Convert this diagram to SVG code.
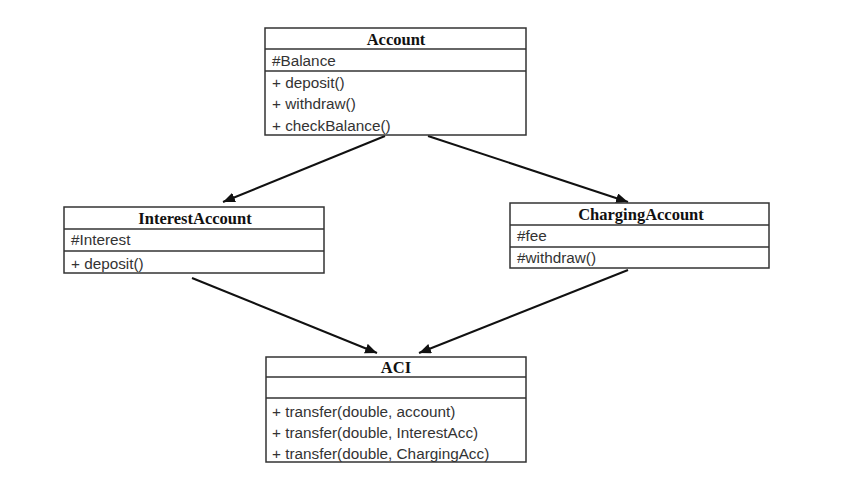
<svg xmlns="http://www.w3.org/2000/svg" width="842" height="492" viewBox="0 0 842 492">
<defs>
<style>
.box{fill:#fff;stroke:#333;stroke-width:1.5}
.div{stroke:#333;stroke-width:1.5}
.title{font-family:"Liberation Serif",serif;font-weight:bold;font-size:16.5px;fill:#111;text-anchor:middle}
.txt{font-family:"Liberation Sans",Arial,sans-serif;font-size:15.3px;fill:#333}
.edge{stroke:#111;stroke-width:2;fill:none;marker-end:url(#arr)}
</style>
<marker id="arr" markerUnits="userSpaceOnUse" markerWidth="14" markerHeight="12" refX="12" refY="5" orient="auto">
<path d="M0,0 L12,5 L0,10 Z" fill="#111"/>
</marker>
</defs>
<rect width="842" height="492" fill="#fff"/>
<g id="connectors">
<line class="edge" x1="385" y1="136" x2="223" y2="202"/>
<line class="edge" x1="428" y1="136" x2="628" y2="202"/>
<line class="edge" x1="192" y1="278" x2="377" y2="353"/>
<line class="edge" x1="628" y1="270" x2="419" y2="353"/>
</g>
<g id="Account">
<rect class="box" x="265" y="28" width="261" height="107"/>
<line class="div" x1="265" y1="49" x2="526" y2="49"/>
<line class="div" x1="265" y1="71" x2="526" y2="71"/>
<text class="title" x="396" y="45">Account</text>
<text class="txt" x="272" y="66">#Balance</text>
<text class="txt" x="272" y="88">+ deposit()</text>
<text class="txt" x="272" y="109">+ withdraw()</text>
<text class="txt" x="272" y="131">+ checkBalance()</text>
</g>
<g id="InterestAccount">
<rect class="box" x="64" y="207" width="260" height="66"/>
<line class="div" x1="64" y1="229" x2="324" y2="229"/>
<line class="div" x1="64" y1="251" x2="324" y2="251"/>
<text class="title" x="195" y="224">InterestAccount</text>
<text class="txt" x="71" y="245">#Interest</text>
<text class="txt" x="71" y="269">+ deposit()</text>
</g>
<g id="ChargingAccount">
<rect class="box" x="510" y="203" width="259" height="65"/>
<line class="div" x1="510" y1="225" x2="769" y2="225"/>
<line class="div" x1="510" y1="247" x2="769" y2="247"/>
<text class="title" x="641" y="220">ChargingAccount</text>
<text class="txt" x="517" y="241">#fee</text>
<text class="txt" x="517" y="263">#withdraw()</text>
</g>
<g id="ACI">
<rect class="box" x="266" y="357" width="260" height="105"/>
<line class="div" x1="266" y1="377" x2="526" y2="377"/>
<line class="div" x1="266" y1="398" x2="526" y2="398"/>
<text class="title" x="396" y="373">ACI</text>
<text class="txt" x="272" y="417">+ transfer(double, account)</text>
<text class="txt" x="272" y="438">+ transfer(double, InterestAcc)</text>
<text class="txt" x="272" y="459">+ transfer(double, ChargingAcc)</text>
</g>
</svg>
